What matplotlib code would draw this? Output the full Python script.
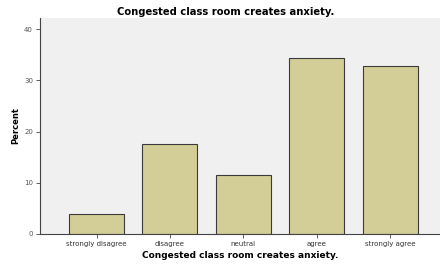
import matplotlib.pyplot as plt

categories = ["strongly disagree", "disagree", "neutral", "agree", "strongly agree"]
percent = [4.0, 17.5, 11.5, 34.3, 32.9]
yticks = [0, 10, 20, 30, 40]

fig = plt.figure(figsize=(4.4, 2.64), dpi=100)
ax = fig.add_axes([40/440, 1 - 234/264, 400/440, 216/264])
ax.set_facecolor("#f0f0f0")

x = range(len(categories))
ax.bar(x, percent, width=0.75, color="#d3ce97", edgecolor="#3a3a3a", linewidth=0.8)

ax.set_xlim(-0.77, 4.68)
ax.set_ylim(0, 42.2)
ax.set_xticks(list(x))
ax.set_xticklabels(categories, fontsize=5, color="#333333")
ax.set_yticks(yticks)
ax.set_yticklabels([str(v) for v in yticks], fontsize=5, color="#555555")
ax.tick_params(length=3, width=0.6, pad=2, color="#444444")

ax.spines["top"].set_visible(False)
ax.spines["right"].set_visible(False)
ax.spines["left"].set_color("#444444")
ax.spines["bottom"].set_color("#444444")

ax.set_title("Congested class room creates anxiety.", fontsize=7.2, fontweight="bold", pad=2, x=0.464)
ax.set_xlabel("Congested class room creates anxiety.", fontsize=6.5, fontweight="bold", labelpad=3)
ax.set_ylabel("Percent", fontsize=6, fontweight="bold", labelpad=3)

plt.savefig("out.png", dpi=100)
